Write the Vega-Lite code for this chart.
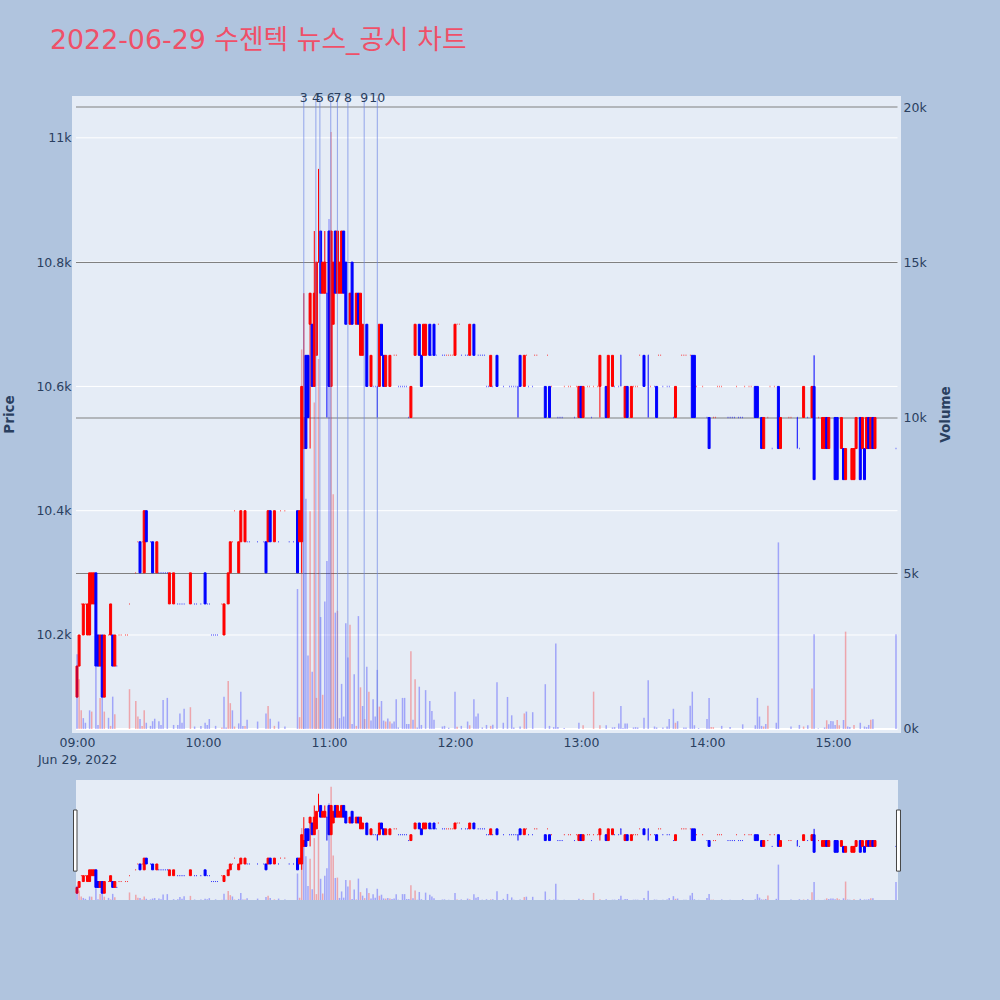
{
  "$schema": "https://vega.github.io/schema/vega-lite/v6.json",
  "background": "#b0c4de",
  "padding": {"left": 2, "right": 48, "top": 27, "bottom": 100},
  "title": {"text": "2022-06-29 수젠텍 뉴스_공시 차트", "anchor": "start", "frame": "group", "dx": -22, "offset": 37, "font": "DejaVu Sans, Noto Sans CJK KR", "fontSize": 26.8, "fontWeight": "normal", "color": "#ef5068"},
  "config": {"view": {"stroke": null}, "axis": {"labelFont": "DejaVu Sans", "titleFont": "DejaVu Sans", "labelColor": "#2a3f5f", "titleColor": "#2a3f5f", "labelFontSize": 12.5, "titleFontSize": 13.5, "grid": false, "domain": false, "ticks": false}},
  "datasets": {
    "candles": [
      {"t":"2022-06-29T09:00","o":10100,"c":10150,"d":"u"},{"t":"2022-06-29T09:01","o":10150,"c":10200,"d":"u"},{"t":"2022-06-29T09:02","o":10250,"c":10250,"d":"u"},{"t":"2022-06-29T09:03","o":10200,"c":10250,"d":"u"},{"t":"2022-06-29T09:04","o":10250,"c":10250,"d":"u"},{"t":"2022-06-29T09:05","o":10200,"c":10250,"d":"u"},{"t":"2022-06-29T09:06","o":10200,"c":10300,"d":"u"},{"t":"2022-06-29T09:07","o":10250,"c":10300,"d":"u"},{"t":"2022-06-29T09:08","o":10250,"c":10300,"d":"u"},{"t":"2022-06-29T09:09","o":10300,"c":10150,"d":"d"},
      {"t":"2022-06-29T09:10","o":10200,"c":10150,"d":"d"},{"t":"2022-06-29T09:11","o":10150,"c":10200,"d":"u"},{"t":"2022-06-29T09:12","o":10200,"c":10100,"d":"d"},{"t":"2022-06-29T09:13","o":10100,"c":10200,"d":"u"},{"t":"2022-06-29T09:15","o":10200,"c":10200,"d":"u"},{"t":"2022-06-29T09:16","o":10200,"c":10250,"d":"u"},{"t":"2022-06-29T09:17","o":10200,"c":10150,"d":"d"},{"t":"2022-06-29T09:18","o":10150,"c":10200,"d":"u"},{"t":"2022-06-29T09:19","o":10150,"c":10150,"d":"d"},{"t":"2022-06-29T09:20","o":10200,"c":10200,"d":"u"},{"t":"2022-06-29T09:21","o":10200,"c":10200,"d":"u"},{"t":"2022-06-29T09:23","o":10200,"c":10200,"d":"u"},{"t":"2022-06-29T09:24","o":10200,"c":10200,"d":"u"},{"t":"2022-06-29T09:25","o":10250,"c":10250,"d":"u"},{"t":"2022-06-29T09:28","o":10300,"c":10300,"d":"u"},{"t":"2022-06-29T09:29","o":10350,"c":10350,"d":"u"},
      {"t":"2022-06-29T09:30","o":10350,"c":10300,"d":"d"},{"t":"2022-06-29T09:31","o":10350,"c":10350,"d":"u"},{"t":"2022-06-29T09:32","o":10300,"c":10400,"d":"u"},{"t":"2022-06-29T09:33","o":10400,"c":10350,"d":"d"},{"t":"2022-06-29T09:35","o":10350,"c":10350,"d":"d"},{"t":"2022-06-29T09:36","o":10350,"c":10300,"d":"d"},{"t":"2022-06-29T09:38","o":10300,"c":10350,"d":"u"},{"t":"2022-06-29T09:39","o":10300,"c":10300,"d":"d"},{"t":"2022-06-29T09:40","o":10300,"c":10300,"d":"d"},{"t":"2022-06-29T09:41","o":10300,"c":10300,"d":"d"},{"t":"2022-06-29T09:42","o":10300,"c":10300,"d":"d"},{"t":"2022-06-29T09:43","o":10300,"c":10300,"d":"d"},{"t":"2022-06-29T09:44","o":10250,"c":10300,"d":"u"},{"t":"2022-06-29T09:46","o":10250,"c":10300,"d":"u"},{"t":"2022-06-29T09:48","o":10250,"c":10250,"d":"d"},{"t":"2022-06-29T09:49","o":10250,"c":10250,"d":"d"},{"t":"2022-06-29T09:50","o":10250,"c":10250,"d":"d"},{"t":"2022-06-29T09:51","o":10250,"c":10250,"d":"d"},{"t":"2022-06-29T09:54","o":10250,"c":10300,"d":"u"},{"t":"2022-06-29T09:56","o":10250,"c":10250,"d":"d"},{"t":"2022-06-29T09:57","o":10250,"c":10250,"d":"d"},{"t":"2022-06-29T09:59","o":10250,"c":10250,"d":"d"},
      {"t":"2022-06-29T10:01","o":10300,"c":10250,"d":"d"},{"t":"2022-06-29T10:02","o":10250,"c":10250,"d":"d"},{"t":"2022-06-29T10:03","o":10250,"c":10250,"d":"d"},{"t":"2022-06-29T10:04","o":10200,"c":10200,"d":"d"},{"t":"2022-06-29T10:05","o":10200,"c":10200,"d":"d"},{"t":"2022-06-29T10:06","o":10200,"c":10200,"d":"d"},{"t":"2022-06-29T10:07","o":10200,"c":10200,"d":"d"},{"t":"2022-06-29T10:09","o":10250,"c":10250,"d":"u"},{"t":"2022-06-29T10:10","o":10200,"c":10250,"d":"u"},{"t":"2022-06-29T10:12","o":10250,"c":10300,"d":"u"},{"t":"2022-06-29T10:13","o":10300,"c":10350,"d":"u"},{"t":"2022-06-29T10:14","o":10350,"c":10350,"d":"u"},{"t":"2022-06-29T10:15","o":10400,"c":10400,"d":"u"},{"t":"2022-06-29T10:17","o":10300,"c":10350,"d":"u"},{"t":"2022-06-29T10:18","o":10350,"c":10400,"d":"u"},{"t":"2022-06-29T10:20","o":10350,"c":10400,"d":"u"},{"t":"2022-06-29T10:21","o":10350,"c":10350,"d":"d"},{"t":"2022-06-29T10:22","o":10350,"c":10350,"d":"d"},{"t":"2022-06-29T10:26","o":10350,"c":10350,"d":"d"},{"t":"2022-06-29T10:29","o":10350,"c":10350,"d":"d"},
      {"t":"2022-06-29T10:30","o":10350,"c":10300,"d":"d"},{"t":"2022-06-29T10:31","o":10350,"c":10400,"d":"u"},{"t":"2022-06-29T10:32","o":10400,"c":10350,"d":"d"},{"t":"2022-06-29T10:34","o":10350,"c":10400,"d":"u"},{"t":"2022-06-29T10:36","o":10350,"c":10350,"d":"d"},{"t":"2022-06-29T10:37","o":10400,"c":10400,"d":"u"},{"t":"2022-06-29T10:39","o":10400,"c":10400,"d":"u"},{"t":"2022-06-29T10:41","o":10350,"c":10350,"d":"d"},{"t":"2022-06-29T10:43","o":10350,"c":10350,"d":"d"},{"t":"2022-06-29T10:45","o":10400,"c":10300,"d":"d"},{"t":"2022-06-29T10:46","o":10350,"c":10400,"d":"u"},{"t":"2022-06-29T10:47","o":10350,"c":10600,"l":10300,"h":10600,"d":"u"},{"t":"2022-06-29T10:48","o":10500,"c":10550,"l":10500,"h":10750,"d":"u"},{"t":"2022-06-29T10:49","o":10650,"c":10500,"d":"d"},{"t":"2022-06-29T10:50","o":10650,"c":10550,"d":"d"},{"t":"2022-06-29T10:51","o":10700,"c":10750,"l":10500,"h":10750,"d":"u"},{"t":"2022-06-29T10:52","o":10700,"c":10600,"d":"d"},{"t":"2022-06-29T10:53","o":10600,"c":10750,"l":10600,"h":10850,"d":"u"},{"t":"2022-06-29T10:54","o":10650,"c":10800,"d":"u"},{"t":"2022-06-29T10:55","o":10800,"c":10800,"l":10800,"h":10950,"d":"u"},{"t":"2022-06-29T10:56","o":10850,"c":10750,"d":"d"},{"t":"2022-06-29T10:57","o":10750,"c":10800,"d":"u"},{"t":"2022-06-29T10:58","o":10750,"c":10800,"l":10750,"h":10850,"d":"u"},{"t":"2022-06-29T10:59","o":10750,"c":10750,"l":10550,"h":10750,"d":"d"},
      {"t":"2022-06-29T11:00","o":10850,"c":10600,"d":"d"},{"t":"2022-06-29T11:01","o":10600,"c":10850,"d":"u"},{"t":"2022-06-29T11:02","o":10700,"c":10800,"d":"u"},{"t":"2022-06-29T11:03","o":10850,"c":10750,"d":"d"},{"t":"2022-06-29T11:04","o":10750,"c":10850,"d":"u"},{"t":"2022-06-29T11:05","o":10750,"c":10800,"d":"u"},{"t":"2022-06-29T11:06","o":10750,"c":10850,"d":"u"},{"t":"2022-06-29T11:07","o":10850,"c":10750,"d":"d"},{"t":"2022-06-29T11:08","o":10800,"c":10700,"d":"d"},{"t":"2022-06-29T11:10","o":10700,"c":10750,"d":"u"},{"t":"2022-06-29T11:11","o":10800,"c":10700,"d":"d"},{"t":"2022-06-29T11:13","o":10700,"c":10750,"d":"u"},{"t":"2022-06-29T11:14","o":10750,"c":10700,"d":"d"},{"t":"2022-06-29T11:15","o":10650,"c":10750,"d":"u"},{"t":"2022-06-29T11:16","o":10650,"c":10700,"d":"u"},{"t":"2022-06-29T11:18","o":10700,"c":10600,"d":"d"},{"t":"2022-06-29T11:20","o":10600,"c":10650,"d":"u"},{"t":"2022-06-29T11:21","o":10600,"c":10600,"d":"d"},{"t":"2022-06-29T11:22","o":10600,"c":10600,"d":"d"},{"t":"2022-06-29T11:23","o":10600,"c":10600,"l":10550,"h":10600,"d":"d"},{"t":"2022-06-29T11:24","o":10600,"c":10700,"d":"u"},{"t":"2022-06-29T11:25","o":10700,"c":10650,"d":"d"},{"t":"2022-06-29T11:26","o":10650,"c":10600,"d":"d"},{"t":"2022-06-29T11:27","o":10600,"c":10650,"d":"u"},{"t":"2022-06-29T11:29","o":10600,"c":10650,"d":"u"},
      {"t":"2022-06-29T11:31","o":10650,"c":10650,"d":"u"},{"t":"2022-06-29T11:32","o":10650,"c":10650,"d":"u"},{"t":"2022-06-29T11:33","o":10600,"c":10600,"d":"d"},{"t":"2022-06-29T11:34","o":10600,"c":10600,"d":"d"},{"t":"2022-06-29T11:35","o":10600,"c":10600,"d":"d"},{"t":"2022-06-29T11:36","o":10600,"c":10600,"d":"d"},{"t":"2022-06-29T11:37","o":10600,"c":10600,"d":"d"},{"t":"2022-06-29T11:38","o":10550,"c":10550,"d":"d"},{"t":"2022-06-29T11:39","o":10550,"c":10600,"d":"u"},{"t":"2022-06-29T11:41","o":10650,"c":10700,"d":"u"},{"t":"2022-06-29T11:43","o":10700,"c":10650,"d":"d"},{"t":"2022-06-29T11:44","o":10650,"c":10600,"d":"d"},{"t":"2022-06-29T11:45","o":10650,"c":10700,"d":"u"},{"t":"2022-06-29T11:46","o":10650,"c":10700,"d":"u"},{"t":"2022-06-29T11:48","o":10700,"c":10650,"d":"d"},{"t":"2022-06-29T11:49","o":10650,"c":10650,"d":"d"},{"t":"2022-06-29T11:50","o":10700,"c":10650,"d":"d"},{"t":"2022-06-29T11:51","o":10650,"c":10650,"d":"d"},{"t":"2022-06-29T11:52","o":10700,"c":10700,"d":"u"},{"t":"2022-06-29T11:54","o":10650,"c":10650,"d":"d"},{"t":"2022-06-29T11:55","o":10650,"c":10650,"d":"d"},{"t":"2022-06-29T11:56","o":10650,"c":10650,"d":"u"},{"t":"2022-06-29T11:57","o":10650,"c":10650,"d":"u"},{"t":"2022-06-29T11:58","o":10650,"c":10650,"d":"u"},{"t":"2022-06-29T11:59","o":10650,"c":10650,"d":"u"},
      {"t":"2022-06-29T12:00","o":10650,"c":10700,"d":"u"},{"t":"2022-06-29T12:01","o":10700,"c":10700,"d":"u"},{"t":"2022-06-29T12:02","o":10700,"c":10700,"d":"u"},{"t":"2022-06-29T12:03","o":10650,"c":10650,"d":"d"},{"t":"2022-06-29T12:05","o":10650,"c":10650,"d":"d"},{"t":"2022-06-29T12:06","o":10650,"c":10650,"d":"d"},{"t":"2022-06-29T12:07","o":10650,"c":10700,"d":"u"},{"t":"2022-06-29T12:09","o":10700,"c":10650,"d":"d"},{"t":"2022-06-29T12:11","o":10650,"c":10650,"d":"d"},{"t":"2022-06-29T12:12","o":10650,"c":10650,"d":"d"},{"t":"2022-06-29T12:13","o":10650,"c":10650,"d":"d"},{"t":"2022-06-29T12:14","o":10650,"c":10650,"d":"d"},{"t":"2022-06-29T12:15","o":10600,"c":10600,"d":"d"},{"t":"2022-06-29T12:16","o":10600,"c":10600,"d":"d"},{"t":"2022-06-29T12:17","o":10600,"c":10650,"d":"u"},{"t":"2022-06-29T12:18","o":10600,"c":10600,"d":"d"},{"t":"2022-06-29T12:20","o":10650,"c":10600,"d":"d"},{"t":"2022-06-29T12:23","o":10600,"c":10600,"d":"d"},{"t":"2022-06-29T12:26","o":10600,"c":10600,"d":"d"},{"t":"2022-06-29T12:27","o":10600,"c":10600,"d":"d"},{"t":"2022-06-29T12:28","o":10600,"c":10600,"d":"d"},{"t":"2022-06-29T12:29","o":10600,"c":10600,"d":"d"},
      {"t":"2022-06-29T12:30","o":10600,"c":10600,"l":10550,"h":10600,"d":"d"},{"t":"2022-06-29T12:31","o":10650,"c":10600,"d":"d"},{"t":"2022-06-29T12:33","o":10600,"c":10650,"d":"u"},{"t":"2022-06-29T12:34","o":10650,"c":10650,"d":"u"},{"t":"2022-06-29T12:35","o":10600,"c":10600,"d":"d"},{"t":"2022-06-29T12:37","o":10600,"c":10600,"d":"d"},{"t":"2022-06-29T12:38","o":10650,"c":10650,"d":"u"},{"t":"2022-06-29T12:39","o":10650,"c":10650,"d":"u"},{"t":"2022-06-29T12:43","o":10600,"c":10550,"d":"d"},{"t":"2022-06-29T12:44","o":10650,"c":10650,"d":"u"},{"t":"2022-06-29T12:45","o":10600,"c":10550,"d":"d"},{"t":"2022-06-29T12:46","o":10600,"c":10600,"d":"u"},{"t":"2022-06-29T12:49","o":10550,"c":10550,"d":"d"},{"t":"2022-06-29T12:50","o":10550,"c":10550,"d":"d"},{"t":"2022-06-29T12:51","o":10550,"c":10550,"d":"d"},{"t":"2022-06-29T12:52","o":10600,"c":10600,"d":"u"},{"t":"2022-06-29T12:54","o":10600,"c":10600,"d":"u"},{"t":"2022-06-29T12:55","o":10600,"c":10600,"d":"u"},{"t":"2022-06-29T12:57","o":10550,"c":10550,"d":"d"},{"t":"2022-06-29T12:58","o":10600,"c":10600,"d":"u"},{"t":"2022-06-29T12:59","o":10550,"c":10600,"d":"u"},
      {"t":"2022-06-29T13:00","o":10600,"c":10550,"d":"d"},{"t":"2022-06-29T13:01","o":10550,"c":10600,"d":"u"},{"t":"2022-06-29T13:03","o":10600,"c":10600,"d":"u"},{"t":"2022-06-29T13:04","o":10600,"c":10600,"d":"u"},{"t":"2022-06-29T13:05","o":10550,"c":10550,"d":"d"},{"t":"2022-06-29T13:06","o":10600,"c":10600,"d":"u"},{"t":"2022-06-29T13:08","o":10600,"c":10600,"d":"u"},{"t":"2022-06-29T13:09","o":10600,"c":10650,"l":10550,"h":10650,"d":"u"},{"t":"2022-06-29T13:12","o":10600,"c":10550,"d":"d"},{"t":"2022-06-29T13:13","o":10550,"c":10650,"d":"u"},{"t":"2022-06-29T13:15","o":10600,"c":10650,"d":"u"},{"t":"2022-06-29T13:16","o":10600,"c":10600,"d":"d"},{"t":"2022-06-29T13:18","o":10600,"c":10600,"d":"d"},{"t":"2022-06-29T13:19","o":10650,"c":10650,"l":10600,"h":10650,"d":"d"},{"t":"2022-06-29T13:21","o":10550,"c":10600,"d":"u"},{"t":"2022-06-29T13:22","o":10600,"c":10550,"d":"d"},{"t":"2022-06-29T13:24","o":10550,"c":10600,"d":"u"},{"t":"2022-06-29T13:25","o":10600,"c":10600,"d":"u"},{"t":"2022-06-29T13:26","o":10600,"c":10600,"d":"u"},{"t":"2022-06-29T13:27","o":10600,"c":10600,"d":"u"},{"t":"2022-06-29T13:28","o":10650,"c":10650,"d":"u"},
      {"t":"2022-06-29T13:30","o":10650,"c":10600,"d":"d"},{"t":"2022-06-29T13:32","o":10650,"c":10650,"l":10550,"h":10650,"d":"d"},{"t":"2022-06-29T13:33","o":10600,"c":10600,"d":"u"},{"t":"2022-06-29T13:35","o":10600,"c":10600,"d":"d"},{"t":"2022-06-29T13:36","o":10600,"c":10550,"d":"d"},{"t":"2022-06-29T13:37","o":10650,"c":10650,"d":"u"},{"t":"2022-06-29T13:38","o":10650,"c":10650,"d":"u"},{"t":"2022-06-29T13:39","o":10600,"c":10600,"d":"d"},{"t":"2022-06-29T13:41","o":10600,"c":10600,"d":"d"},{"t":"2022-06-29T13:42","o":10600,"c":10600,"d":"d"},{"t":"2022-06-29T13:44","o":10550,"c":10550,"d":"d"},{"t":"2022-06-29T13:45","o":10550,"c":10600,"d":"u"},{"t":"2022-06-29T13:48","o":10650,"c":10650,"d":"u"},{"t":"2022-06-29T13:49","o":10650,"c":10650,"d":"u"},{"t":"2022-06-29T13:50","o":10650,"c":10650,"d":"u"},{"t":"2022-06-29T13:52","o":10650,"c":10650,"d":"u"},{"t":"2022-06-29T13:53","o":10650,"c":10550,"d":"d"},{"t":"2022-06-29T13:54","o":10650,"c":10550,"d":"d"},{"t":"2022-06-29T13:55","o":10600,"c":10600,"d":"u"},{"t":"2022-06-29T13:58","o":10600,"c":10600,"d":"u"},
      {"t":"2022-06-29T14:00","o":10550,"c":10550,"d":"d"},{"t":"2022-06-29T14:01","o":10550,"c":10500,"d":"d"},{"t":"2022-06-29T14:03","o":10550,"c":10550,"d":"u"},{"t":"2022-06-29T14:04","o":10550,"c":10550,"d":"u"},{"t":"2022-06-29T14:05","o":10600,"c":10600,"d":"u"},{"t":"2022-06-29T14:06","o":10600,"c":10600,"d":"u"},{"t":"2022-06-29T14:07","o":10600,"c":10600,"d":"u"},{"t":"2022-06-29T14:10","o":10550,"c":10550,"d":"d"},{"t":"2022-06-29T14:11","o":10550,"c":10550,"d":"d"},{"t":"2022-06-29T14:12","o":10550,"c":10550,"d":"d"},{"t":"2022-06-29T14:13","o":10550,"c":10550,"d":"d"},{"t":"2022-06-29T14:14","o":10600,"c":10600,"d":"u"},{"t":"2022-06-29T14:15","o":10550,"c":10550,"d":"d"},{"t":"2022-06-29T14:16","o":10550,"c":10550,"d":"d"},{"t":"2022-06-29T14:17","o":10550,"c":10550,"d":"d"},{"t":"2022-06-29T14:18","o":10600,"c":10600,"d":"u"},{"t":"2022-06-29T14:20","o":10600,"c":10600,"d":"u"},{"t":"2022-06-29T14:21","o":10600,"c":10600,"d":"u"},{"t":"2022-06-29T14:23","o":10600,"c":10550,"d":"d"},{"t":"2022-06-29T14:24","o":10600,"c":10550,"d":"d"},{"t":"2022-06-29T14:26","o":10550,"c":10500,"d":"d"},{"t":"2022-06-29T14:27","o":10500,"c":10550,"d":"u"},{"t":"2022-06-29T14:29","o":10550,"c":10550,"d":"u"},
      {"t":"2022-06-29T14:30","o":10600,"c":10600,"d":"u"},{"t":"2022-06-29T14:31","o":10500,"c":10500,"d":"d"},{"t":"2022-06-29T14:32","o":10600,"c":10600,"d":"u"},{"t":"2022-06-29T14:34","o":10600,"c":10500,"d":"d"},{"t":"2022-06-29T14:35","o":10500,"c":10550,"d":"u"},{"t":"2022-06-29T14:39","o":10550,"c":10550,"d":"u"},{"t":"2022-06-29T14:40","o":10550,"c":10550,"d":"u"},{"t":"2022-06-29T14:43","o":10550,"c":10550,"l":10500,"h":10550,"d":"d"},{"t":"2022-06-29T14:44","o":10500,"c":10500,"d":"d"},{"t":"2022-06-29T14:46","o":10550,"c":10600,"d":"u"},{"t":"2022-06-29T14:48","o":10550,"c":10550,"d":"d"},{"t":"2022-06-29T14:50","o":10550,"c":10600,"d":"u"},{"t":"2022-06-29T14:51","o":10600,"c":10450,"l":10450,"h":10650,"d":"d"},{"t":"2022-06-29T14:53","o":10550,"c":10550,"d":"u"},{"t":"2022-06-29T14:55","o":10500,"c":10550,"d":"u"},{"t":"2022-06-29T14:56","o":10500,"c":10550,"d":"u"},{"t":"2022-06-29T14:57","o":10550,"c":10500,"d":"d"},{"t":"2022-06-29T14:58","o":10500,"c":10550,"d":"u"},
      {"t":"2022-06-29T15:01","o":10550,"c":10450,"d":"d"},{"t":"2022-06-29T15:02","o":10550,"c":10450,"d":"d"},{"t":"2022-06-29T15:04","o":10500,"c":10550,"d":"u"},{"t":"2022-06-29T15:05","o":10500,"c":10450,"d":"d"},{"t":"2022-06-29T15:06","o":10450,"c":10500,"d":"u"},{"t":"2022-06-29T15:09","o":10450,"c":10500,"d":"u"},{"t":"2022-06-29T15:10","o":10450,"c":10500,"d":"u"},{"t":"2022-06-29T15:11","o":10500,"c":10550,"d":"u"},{"t":"2022-06-29T15:13","o":10550,"c":10450,"d":"d"},{"t":"2022-06-29T15:14","o":10500,"c":10550,"d":"u"},{"t":"2022-06-29T15:15","o":10500,"c":10450,"d":"d"},{"t":"2022-06-29T15:16","o":10500,"c":10550,"d":"u"},{"t":"2022-06-29T15:17","o":10550,"c":10500,"d":"d"},{"t":"2022-06-29T15:18","o":10500,"c":10550,"d":"u"},{"t":"2022-06-29T15:19","o":10550,"c":10500,"d":"d"},{"t":"2022-06-29T15:20","o":10500,"c":10550,"d":"u"},{"t":"2022-06-29T15:30","o":10500,"c":10500,"d":"d"}
    ],
    "volumes": [
      {"t":"2022-06-29T09:00","v":2400,"d":"d"},{"t":"2022-06-29T09:01","v":1600,"d":"u"},{"t":"2022-06-29T09:02","v":600,"d":"u"},{"t":"2022-06-29T09:03","v":350,"d":"d"},{"t":"2022-06-29T09:04","v":200,"d":"d"},{"t":"2022-06-29T09:06","v":600,"d":"d"},{"t":"2022-06-29T09:07","v":560,"d":"u"},{"t":"2022-06-29T09:09","v":2000,"d":"d"},{"t":"2022-06-29T09:10","v":130,"d":"d"},{"t":"2022-06-29T09:11","v":1000,"d":"u"},{"t":"2022-06-29T09:12","v":1000,"d":"d"},{"t":"2022-06-29T09:13","v":560,"d":"u"},{"t":"2022-06-29T09:15","v":360,"d":"d"},{"t":"2022-06-29T09:16","v":100,"d":"u"},{"t":"2022-06-29T09:17","v":1040,"d":"d"},{"t":"2022-06-29T09:18","v":470,"d":"u"},{"t":"2022-06-29T09:25","v":1280,"d":"u"},{"t":"2022-06-29T09:28","v":900,"d":"u"},{"t":"2022-06-29T09:29","v":400,"d":"u"},{"t":"2022-06-29T09:30","v":320,"d":"d"},{"t":"2022-06-29T09:31","v":100,"d":"u"},{"t":"2022-06-29T09:32","v":600,"d":"u"},{"t":"2022-06-29T09:33","v":200,"d":"d"},{"t":"2022-06-29T09:35","v":100,"d":"d"},{"t":"2022-06-29T09:36","v":250,"d":"d"},{"t":"2022-06-29T09:37","v":330,"d":"d"},{"t":"2022-06-29T09:39","v":250,"d":"d"},{"t":"2022-06-29T09:40","v":130,"d":"d"},{"t":"2022-06-29T09:41","v":930,"d":"d"},{"t":"2022-06-29T09:43","v":1000,"d":"d"},{"t":"2022-06-29T09:46","v":130,"d":"d"},{"t":"2022-06-29T09:48","v":130,"d":"d"},{"t":"2022-06-29T09:49","v":500,"d":"d"},{"t":"2022-06-29T09:50","v":200,"d":"d"},{"t":"2022-06-29T09:51","v":650,"d":"d"},{"t":"2022-06-29T09:54","v":700,"d":"u"},{"t":"2022-06-29T09:56","v":80,"d":"d"},{"t":"2022-06-29T09:59","v":100,"d":"d"},
      {"t":"2022-06-29T10:01","v":200,"d":"d"},{"t":"2022-06-29T10:02","v":130,"d":"d"},{"t":"2022-06-29T10:03","v":320,"d":"d"},{"t":"2022-06-29T10:06","v":100,"d":"d"},{"t":"2022-06-29T10:09","v":50,"d":"u"},{"t":"2022-06-29T10:10","v":1040,"d":"d"},{"t":"2022-06-29T10:11","v":50,"d":"d"},{"t":"2022-06-29T10:12","v":1540,"d":"u"},{"t":"2022-06-29T10:13","v":830,"d":"u"},{"t":"2022-06-29T10:14","v":600,"d":"d"},{"t":"2022-06-29T10:15","v":80,"d":"u"},{"t":"2022-06-29T10:17","v":180,"d":"d"},{"t":"2022-06-29T10:18","v":1200,"d":"d"},{"t":"2022-06-29T10:19","v":100,"d":"d"},{"t":"2022-06-29T10:20","v":100,"d":"u"},{"t":"2022-06-29T10:21","v":300,"d":"d"},{"t":"2022-06-29T10:26","v":240,"d":"d"},{"t":"2022-06-29T10:30","v":500,"d":"d"},{"t":"2022-06-29T10:31","v":740,"d":"u"},{"t":"2022-06-29T10:32","v":330,"d":"d"},{"t":"2022-06-29T10:34","v":100,"d":"u"},{"t":"2022-06-29T10:36","v":240,"d":"d"},{"t":"2022-06-29T10:39","v":80,"d":"d"},{"t":"2022-06-29T10:45","v":4500,"d":"d"},{"t":"2022-06-29T10:46","v":380,"d":"u"},{"t":"2022-06-29T10:47","v":12200,"d":"u"},{"t":"2022-06-29T10:48","v":9000,"d":"d"},{"t":"2022-06-29T10:49","v":7400,"d":"d"},{"t":"2022-06-29T10:50","v":2360,"d":"d"},{"t":"2022-06-29T10:51","v":7000,"d":"u"},{"t":"2022-06-29T10:52","v":1840,"d":"d"},{"t":"2022-06-29T10:53","v":10500,"d":"u"},{"t":"2022-06-29T10:54","v":1000,"d":"u"},{"t":"2022-06-29T10:55","v":11900,"d":"u"},{"t":"2022-06-29T10:56","v":3600,"d":"d"},{"t":"2022-06-29T10:57","v":1100,"d":"u"},{"t":"2022-06-29T10:58","v":4100,"d":"d"},{"t":"2022-06-29T10:59","v":5400,"d":"d"},
      {"t":"2022-06-29T11:00","v":16400,"d":"d"},{"t":"2022-06-29T11:01","v":19200,"d":"u"},{"t":"2022-06-29T11:02","v":7550,"d":"u"},{"t":"2022-06-29T11:03","v":3740,"d":"d"},{"t":"2022-06-29T11:04","v":3800,"d":"u"},{"t":"2022-06-29T11:05","v":350,"d":"d"},{"t":"2022-06-29T11:06","v":1450,"d":"d"},{"t":"2022-06-29T11:07","v":400,"d":"d"},{"t":"2022-06-29T11:08","v":3400,"d":"d"},{"t":"2022-06-29T11:09","v":2300,"d":"d"},{"t":"2022-06-29T11:10","v":3350,"d":"u"},{"t":"2022-06-29T11:11","v":160,"d":"d"},{"t":"2022-06-29T11:12","v":1760,"d":"d"},{"t":"2022-06-29T11:13","v":100,"d":"u"},{"t":"2022-06-29T11:14","v":3630,"d":"d"},{"t":"2022-06-29T11:15","v":1340,"d":"u"},{"t":"2022-06-29T11:16","v":740,"d":"d"},{"t":"2022-06-29T11:17","v":320,"d":"u"},{"t":"2022-06-29T11:18","v":2000,"d":"d"},{"t":"2022-06-29T11:19","v":1200,"d":"u"},{"t":"2022-06-29T11:20","v":270,"d":"d"},{"t":"2022-06-29T11:21","v":960,"d":"d"},{"t":"2022-06-29T11:22","v":400,"d":"d"},{"t":"2022-06-29T11:23","v":1900,"d":"d"},{"t":"2022-06-29T11:24","v":720,"d":"u"},{"t":"2022-06-29T11:25","v":900,"d":"d"},{"t":"2022-06-29T11:26","v":270,"d":"d"},{"t":"2022-06-29T11:27","v":240,"d":"u"},{"t":"2022-06-29T11:28","v":340,"d":"d"},{"t":"2022-06-29T11:29","v":240,"d":"u"},{"t":"2022-06-29T11:30","v":180,"d":"d"},{"t":"2022-06-29T11:31","v":240,"d":"d"},{"t":"2022-06-29T11:32","v":960,"d":"d"},{"t":"2022-06-29T11:33","v":50,"d":"d"},{"t":"2022-06-29T11:35","v":1000,"d":"d"},{"t":"2022-06-29T11:36","v":1000,"d":"d"},{"t":"2022-06-29T11:37","v":160,"d":"d"},{"t":"2022-06-29T11:38","v":160,"d":"d"},{"t":"2022-06-29T11:39","v":2500,"d":"u"},{"t":"2022-06-29T11:40","v":300,"d":"d"},{"t":"2022-06-29T11:41","v":1600,"d":"u"},{"t":"2022-06-29T11:42","v":50,"d":"d"},{"t":"2022-06-29T11:43","v":1360,"d":"d"},{"t":"2022-06-29T11:44","v":130,"d":"d"},{"t":"2022-06-29T11:46","v":1250,"d":"d"},{"t":"2022-06-29T11:48","v":900,"d":"d"},{"t":"2022-06-29T11:49","v":580,"d":"d"},{"t":"2022-06-29T11:50","v":300,"d":"d"},{"t":"2022-06-29T11:54","v":80,"d":"d"},{"t":"2022-06-29T11:55","v":100,"d":"d"},{"t":"2022-06-29T11:57","v":40,"d":"d"},
      {"t":"2022-06-29T12:00","v":1200,"d":"d"},{"t":"2022-06-29T12:01","v":70,"d":"u"},{"t":"2022-06-29T12:03","v":100,"d":"d"},{"t":"2022-06-29T12:06","v":240,"d":"d"},{"t":"2022-06-29T12:07","v":120,"d":"u"},{"t":"2022-06-29T12:09","v":960,"d":"d"},{"t":"2022-06-29T12:10","v":400,"d":"d"},{"t":"2022-06-29T12:11","v":500,"d":"d"},{"t":"2022-06-29T12:13","v":50,"d":"d"},{"t":"2022-06-29T12:15","v":130,"d":"d"},{"t":"2022-06-29T12:17","v":100,"d":"u"},{"t":"2022-06-29T12:18","v":140,"d":"d"},{"t":"2022-06-29T12:20","v":1500,"d":"d"},{"t":"2022-06-29T12:23","v":200,"d":"d"},{"t":"2022-06-29T12:25","v":1030,"d":"d"},{"t":"2022-06-29T12:27","v":440,"d":"d"},{"t":"2022-06-29T12:28","v":50,"d":"d"},{"t":"2022-06-29T12:31","v":80,"d":"d"},{"t":"2022-06-29T12:33","v":500,"d":"u"},{"t":"2022-06-29T12:34","v":560,"d":"d"},{"t":"2022-06-29T12:37","v":540,"d":"d"},{"t":"2022-06-29T12:43","v":1440,"d":"d"},{"t":"2022-06-29T12:45","v":100,"d":"d"},{"t":"2022-06-29T12:47","v":60,"d":"d"},{"t":"2022-06-29T12:48","v":2750,"d":"d"},{"t":"2022-06-29T12:49","v":60,"d":"d"},{"t":"2022-06-29T12:52","v":30,"d":"d"},{"t":"2022-06-29T12:59","v":200,"d":"d"},
      {"t":"2022-06-29T13:01","v":120,"d":"u"},{"t":"2022-06-29T13:06","v":1200,"d":"u"},{"t":"2022-06-29T13:09","v":120,"d":"u"},{"t":"2022-06-29T13:12","v":120,"d":"d"},{"t":"2022-06-29T13:15","v":50,"d":"d"},{"t":"2022-06-29T13:16","v":60,"d":"d"},{"t":"2022-06-29T13:18","v":180,"d":"d"},{"t":"2022-06-29T13:19","v":740,"d":"d"},{"t":"2022-06-29T13:20","v":30,"d":"d"},{"t":"2022-06-29T13:21","v":180,"d":"d"},{"t":"2022-06-29T13:22","v":180,"d":"d"},{"t":"2022-06-29T13:25","v":50,"d":"d"},{"t":"2022-06-29T13:26","v":60,"d":"d"},{"t":"2022-06-29T13:27","v":50,"d":"d"},{"t":"2022-06-29T13:30","v":360,"d":"d"},{"t":"2022-06-29T13:32","v":1570,"d":"d"},{"t":"2022-06-29T13:35","v":80,"d":"d"},{"t":"2022-06-29T13:36","v":50,"d":"d"},{"t":"2022-06-29T13:39","v":50,"d":"d"},{"t":"2022-06-29T13:41","v":80,"d":"d"},{"t":"2022-06-29T13:42","v":320,"d":"d"},{"t":"2022-06-29T13:44","v":650,"d":"d"},{"t":"2022-06-29T13:45","v":200,"d":"u"},{"t":"2022-06-29T13:46","v":250,"d":"d"},{"t":"2022-06-29T13:49","v":50,"d":"d"},{"t":"2022-06-29T13:50","v":50,"d":"d"},{"t":"2022-06-29T13:52","v":750,"d":"d"},{"t":"2022-06-29T13:53","v":1200,"d":"d"},{"t":"2022-06-29T13:54","v":120,"d":"d"},{"t":"2022-06-29T13:56","v":30,"d":"d"},
      {"t":"2022-06-29T14:00","v":320,"d":"d"},{"t":"2022-06-29T14:01","v":1000,"d":"d"},{"t":"2022-06-29T14:02","v":60,"d":"u"},{"t":"2022-06-29T14:03","v":60,"d":"u"},{"t":"2022-06-29T14:07","v":100,"d":"d"},{"t":"2022-06-29T14:11","v":60,"d":"d"},{"t":"2022-06-29T14:17","v":150,"d":"d"},{"t":"2022-06-29T14:23","v":120,"d":"d"},{"t":"2022-06-29T14:24","v":1000,"d":"d"},{"t":"2022-06-29T14:25","v":400,"d":"d"},{"t":"2022-06-29T14:26","v":100,"d":"d"},{"t":"2022-06-29T14:27","v":80,"d":"u"},{"t":"2022-06-29T14:28","v":160,"d":"d"},{"t":"2022-06-29T14:29","v":750,"d":"u"},{"t":"2022-06-29T14:33","v":200,"d":"d"},{"t":"2022-06-29T14:34","v":6000,"d":"d"},{"t":"2022-06-29T14:40","v":80,"d":"d"},{"t":"2022-06-29T14:44","v":130,"d":"d"},{"t":"2022-06-29T14:46","v":80,"d":"u"},{"t":"2022-06-29T14:48","v":120,"d":"d"},{"t":"2022-06-29T14:50","v":1300,"d":"u"},{"t":"2022-06-29T14:51","v":3050,"d":"d"},{"t":"2022-06-29T14:53","v":20,"d":"d"},{"t":"2022-06-29T14:56","v":50,"d":"d"},{"t":"2022-06-29T14:57","v":280,"d":"u"},{"t":"2022-06-29T14:58","v":150,"d":"d"},{"t":"2022-06-29T14:59","v":260,"d":"d"},
      {"t":"2022-06-29T15:00","v":250,"d":"d"},{"t":"2022-06-29T15:01","v":130,"d":"d"},{"t":"2022-06-29T15:02","v":290,"d":"u"},{"t":"2022-06-29T15:03","v":120,"d":"u"},{"t":"2022-06-29T15:05","v":290,"d":"d"},{"t":"2022-06-29T15:06","v":3130,"d":"u"},{"t":"2022-06-29T15:07","v":80,"d":"d"},{"t":"2022-06-29T15:08","v":60,"d":"d"},{"t":"2022-06-29T15:10","v":130,"d":"u"},{"t":"2022-06-29T15:13","v":200,"d":"d"},{"t":"2022-06-29T15:15","v":80,"d":"d"},{"t":"2022-06-29T15:16","v":60,"d":"d"},{"t":"2022-06-29T15:17","v":130,"d":"d"},{"t":"2022-06-29T15:18","v":300,"d":"u"},{"t":"2022-06-29T15:19","v":310,"d":"d"},{"t":"2022-06-29T15:30","v":3050,"d":"d"}
    ],
    "news": [
      {"t":"2022-06-29T10:48:00","n":"3","top":20300,"base":0},{"t":"2022-06-29T10:53:45","n":"4","top":20300,"base":0},{"t":"2022-06-29T10:55:40","n":"5","top":20300,"base":0},{"t":"2022-06-29T11:00:50","n":"6","top":20300,"base":0},{"t":"2022-06-29T11:04:00","n":"7","top":20300,"base":0},{"t":"2022-06-29T11:09:00","n":"8","top":20300,"base":0},{"t":"2022-06-29T11:16:45","n":"9","top":20300,"base":0},{"t":"2022-06-29T11:23:00","n":"10","top":20300,"base":0}
    ],
    "priceGrid": [
      {"p":10200,"x0":"2022-06-29T08:59:31","x1":"2022-06-29T15:30:43"},{"p":10400,"x0":"2022-06-29T08:59:31","x1":"2022-06-29T15:30:43"},{"p":10600,"x0":"2022-06-29T08:59:31","x1":"2022-06-29T15:30:43"},{"p":10800,"x0":"2022-06-29T08:59:31","x1":"2022-06-29T15:30:43"},{"p":11000,"x0":"2022-06-29T08:59:31","x1":"2022-06-29T15:30:43"}
    ],
    "volGrid": [
      {"v":5000,"x0":"2022-06-29T08:59:31","x1":"2022-06-29T15:30:43"},{"v":10000,"x0":"2022-06-29T08:59:31","x1":"2022-06-29T15:30:43"},{"v":15000,"x0":"2022-06-29T08:59:31","x1":"2022-06-29T15:30:43"},{"v":20000,"x0":"2022-06-29T08:59:31","x1":"2022-06-29T15:30:43"}
    ],
    "zero": [{"v":0,"x0":"2022-06-29T08:59:31","x1":"2022-06-29T15:30:43"}],
    "sliderBg": [{"x0":"2022-06-29T08:59:31","x1":"2022-06-29T15:30:57"}],
    "handles": [
      {"x0":"2022-06-29T08:58:20","x1":"2022-06-29T09:00:00","p0":10289,"p1":10811},
      {"x0":"2022-06-29T15:30:14","x1":"2022-06-29T15:32:08","p0":10289,"p1":10811}
    ]
  },
  "spacing": 47,
  "bounds": "flush",
  "vconcat": [
    {
      "width": 829,
      "height": 637,
      "view": {"fill": "#e5ecf6", "stroke": null},
      "resolve": {"scale": {"y": "independent"}},
      "encoding": {
        "x": {"type": "temporal", "title": null, "scale": {"domain": ["2022-06-29T08:57:37", "2022-06-29T15:32:23"], "nice": false, "padding": 0}, "axis": {"values": [{"year":2022,"month":6,"date":29,"hours":9},{"year":2022,"month":6,"date":29,"hours":10},{"year":2022,"month":6,"date":29,"hours":11},{"year":2022,"month":6,"date":29,"hours":12},{"year":2022,"month":6,"date":29,"hours":13},{"year":2022,"month":6,"date":29,"hours":14},{"year":2022,"month":6,"date":29,"hours":15}], "labelExpr": "hours(datum.value) == 9 ? ['09:00', 'Jun 29, 2022'] : timeFormat(datum.value, '%H:%M')", "labelPadding": 3, "labelFlush": false, "labelBound": false, "labelBaseline": "top", "labelLineHeight": 17, "labelOverlap": false}}
      },
      "layer": [
        {
          "data": {"name": "priceGrid"},
          "mark": {"type": "rule", "color": "#ffffff", "strokeWidth": 1},
          "encoding": {
            "x": {"field": "x0"},
            "x2": {"field": "x1"},
            "y": {"field": "p", "type": "quantitative", "title": "Price", "scale": {"domain": [10042.3, 11067.3], "nice": false, "zero": false}, "axis": {"values": [10200, 10400, 10600, 10800, 11000], "format": "~s", "labelPadding": 1, "titleFontWeight": "bold", "titleX": -56, "titleY": 318}}
          }
        },
        {
          "data": {"name": "volGrid"},
          "mark": {"type": "rule", "color": "#808080", "strokeWidth": 1.2},
          "encoding": {
            "x": {"field": "x0"},
            "x2": {"field": "x1"},
            "y": {"field": "v", "type": "quantitative", "title": "Volume", "scale": {"domain": [-129, 20354], "nice": false, "zero": false}, "axis": {"orient": "right", "values": [0, 5000, 10000, 15000, 20000], "format": "~s", "labelPadding": 2, "titleFontWeight": "bold", "titleX": 51, "titleY": 318, "titleAngle": 270}}
          }
        },
        {
          "data": {"name": "zero"},
          "mark": {"type": "rule", "color": "#ffffff", "strokeWidth": 2},
          "encoding": {
            "x": {"field": "x0"},
            "x2": {"field": "x1"},
            "y": {"field": "v", "type": "quantitative", "scale": {"domain": [-129, 20354], "nice": false, "zero": false}, "axis": null}
          }
        },
        {
          "data": {"name": "candles"},
          "mark": {"type": "rule", "strokeWidth": 1},
          "encoding": {
            "x": {"field": "t"},
            "y": {"field": "l", "type": "quantitative", "scale": {"domain": [10042.3, 11067.3], "nice": false, "zero": false}, "axis": null},
            "y2": {"field": "h"},
            "color": {"field": "d", "type": "nominal", "legend": null, "scale": {"domain": ["u", "d"], "range": ["#ff0000", "#0000ff"]}}
          }
        },
        {
          "data": {"name": "candles"},
          "transform": [{"filter": "datum.o != datum.c"}],
          "mark": {"type": "bar", "width": 2, "strokeWidth": 1},
          "encoding": {
            "x": {"field": "t"},
            "y": {"field": "o", "type": "quantitative", "scale": {"domain": [10042.3, 11067.3], "nice": false, "zero": false}, "axis": null},
            "y2": {"field": "c"},
            "color": {"field": "d", "type": "nominal", "legend": null, "scale": {"domain": ["u", "d"], "range": ["#ff0000", "#0000ff"]}},
            "stroke": {"field": "d", "type": "nominal", "legend": null, "scale": {"domain": ["u", "d"], "range": ["#ff0000", "#0000ff"]}}
          }
        },
        {
          "data": {"name": "candles"},
          "transform": [{"filter": "datum.o == datum.c"}],
          "mark": {"type": "bar", "width": 0.5, "strokeWidth": 1.5},
          "encoding": {
            "x": {"field": "t"},
            "y": {"field": "o", "type": "quantitative", "scale": {"domain": [10042.3, 11067.3], "nice": false, "zero": false}, "axis": null},
            "y2": {"field": "c"},
            "color": {"field": "d", "type": "nominal", "legend": null, "scale": {"domain": ["u", "d"], "range": ["#ff0000", "#0000ff"]}},
            "stroke": {"field": "d", "type": "nominal", "legend": null, "scale": {"domain": ["u", "d"], "range": ["#ff0000", "#0000ff"]}}
          }
        },
        {
          "data": {"name": "volumes"},
          "mark": {"type": "bar", "width": 1.5, "opacity": 0.3},
          "encoding": {
            "x": {"field": "t"},
            "y": {"field": "v", "type": "quantitative", "scale": {"domain": [-129, 20354], "nice": false, "zero": false}, "axis": null},
            "y2": {"datum": 0},
            "color": {"field": "d", "type": "nominal", "legend": null, "scale": {"domain": ["u", "d"], "range": ["#ff0000", "#0000ff"]}}
          }
        },
        {
          "data": {"name": "news"},
          "mark": {"type": "rule", "color": "#6f86e6", "strokeWidth": 1, "opacity": 0.7},
          "encoding": {
            "x": {"field": "t"},
            "y": {"field": "top", "type": "quantitative", "scale": {"domain": [-129, 20354], "nice": false, "zero": false}, "axis": null},
            "y2": {"field": "base"}
          }
        },
        {
          "data": {"name": "news"},
          "mark": {"type": "text", "font": "DejaVu Sans", "fontSize": 12.5, "color": "#2a3f5f", "baseline": "middle"},
          "encoding": {
            "x": {"field": "t"},
            "y": {"field": "top", "type": "quantitative", "scale": {"domain": [-129, 20354], "nice": false, "zero": false}, "axis": null},
            "text": {"field": "n"}
          }
        }
      ]
    },
    {
      "width": 829,
      "height": 120,
      "view": {"stroke": null},
      "resolve": {"scale": {"y": "independent"}},
      "encoding": {
        "x": {"type": "temporal", "scale": {"domain": ["2022-06-29T08:57:37", "2022-06-29T15:32:23"], "nice": false, "padding": 0}, "axis": null}
      },
      "layer": [
        {
          "data": {"name": "sliderBg"},
          "mark": {"type": "rect", "color": "#e5ecf6"},
          "encoding": {
            "x": {"field": "x0"},
            "x2": {"field": "x1"}
          }
        },
        {
          "data": {"name": "candles"},
          "mark": {"type": "rule", "strokeWidth": 1},
          "encoding": {
            "x": {"field": "t"},
            "y": {"field": "l", "type": "quantitative", "scale": {"domain": [10042.3, 11067.3], "nice": false, "zero": false}, "axis": null},
            "y2": {"field": "h"},
            "color": {"field": "d", "type": "nominal", "legend": null, "scale": {"domain": ["u", "d"], "range": ["#ff0000", "#0000ff"]}}
          }
        },
        {
          "data": {"name": "candles"},
          "transform": [{"filter": "datum.o != datum.c"}],
          "mark": {"type": "bar", "width": 2, "strokeWidth": 1},
          "encoding": {
            "x": {"field": "t"},
            "y": {"field": "o", "type": "quantitative", "scale": {"domain": [10042.3, 11067.3], "nice": false, "zero": false}, "axis": null},
            "y2": {"field": "c"},
            "color": {"field": "d", "type": "nominal", "legend": null, "scale": {"domain": ["u", "d"], "range": ["#ff0000", "#0000ff"]}},
            "stroke": {"field": "d", "type": "nominal", "legend": null, "scale": {"domain": ["u", "d"], "range": ["#ff0000", "#0000ff"]}}
          }
        },
        {
          "data": {"name": "candles"},
          "transform": [{"filter": "datum.o == datum.c"}],
          "mark": {"type": "bar", "width": 0.5, "strokeWidth": 1},
          "encoding": {
            "x": {"field": "t"},
            "y": {"field": "o", "type": "quantitative", "scale": {"domain": [10042.3, 11067.3], "nice": false, "zero": false}, "axis": null},
            "y2": {"field": "c"},
            "color": {"field": "d", "type": "nominal", "legend": null, "scale": {"domain": ["u", "d"], "range": ["#ff0000", "#0000ff"]}},
            "stroke": {"field": "d", "type": "nominal", "legend": null, "scale": {"domain": ["u", "d"], "range": ["#ff0000", "#0000ff"]}}
          }
        },
        {
          "data": {"name": "volumes"},
          "mark": {"type": "bar", "width": 1.5, "opacity": 0.3},
          "encoding": {
            "x": {"field": "t"},
            "y": {"field": "v", "type": "quantitative", "scale": {"domain": [0, 20354], "nice": false, "zero": false}, "axis": null},
            "y2": {"datum": 0},
            "color": {"field": "d", "type": "nominal", "legend": null, "scale": {"domain": ["u", "d"], "range": ["#ff0000", "#0000ff"]}}
          }
        },
        {
          "data": {"name": "handles"},
          "mark": {"type": "rect", "fill": "#ffffff", "stroke": "#444444", "strokeWidth": 1},
          "encoding": {
            "x": {"field": "x0"},
            "x2": {"field": "x1"},
            "y": {"field": "p0", "type": "quantitative", "scale": {"domain": [10042.3, 11067.3], "nice": false, "zero": false}, "axis": null},
            "y2": {"field": "p1"}
          }
        }
      ]
    }
  ]
}
